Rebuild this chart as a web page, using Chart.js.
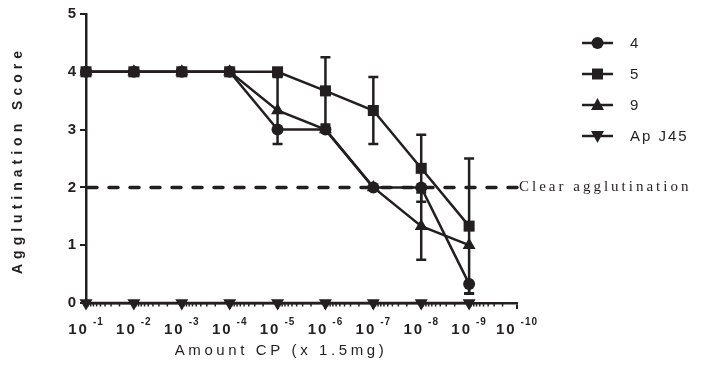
<!DOCTYPE html>
<html>
<head>
<meta charset="utf-8">
<script src="https://cdn.jsdelivr.net/npm/chart.js@4/dist/chart.umd.min.js"></script>
<style>
  body { margin: 0; background: #fff; }
  #wrap { width: 704px; height: 373px; }
</style>
</head>
<body>
<div id="wrap"><canvas id="aggChart" width="704" height="373"></canvas></div>
<script>
// x positions are dilution steps 10^-1 ... 10^-9 (axis runs to 10^-10)
const tickExponents = ['-1', '-2', '-3', '-4', '-5', '-6', '-7', '-8', '-9', '-10'];
const steps = [0, 1, 2, 3, 4, 5, 6, 7, 8];

const series4 = [4, 4, 4, 4, 3, 3, 2, 2, 0.33];
const series5 = [4, 4, 4, 4, 4, 3.67, 3.33, 2.33, 1.33];
const series9 = [4, 4, 4, 4, 3.33, 3, 2, 1.33, 1];
const seriesApJ45 = [0, 0, 0, 0, 0, 0, 0, 0, 0];

// error bars (down / up)
const err4Low = [0, 0, 0, 0, 0, 0, 0, 0, 0.16];
const err4High = [0, 0, 0, 0, 0, 0, 0, 0, 0];
const err5Low = [0, 0, 0, 0, 0, 0.58, 0.58, 0.58, 1.17];
const err5High = [0, 0, 0, 0, 0, 0.58, 0.58, 0.58, 1.17];
const err9Low = [0, 0, 0, 0, 0.58, 0, 0, 0.58, 0];
const err9High = [0, 0, 0, 0, 0.58, 0, 0, 0.58, 0];

const thresholdValue = 2;
const thresholdLabel = 'Clear agglutination';

const ink = '#231f20';
const sans = "'Liberation Sans', Arial, sans-serif";

function pts(values) {
    return values.map((v, i) => ({ x: steps[i], y: v }));
}

function drawMarker(ctx, style, x, y) {
    ctx.save();
    ctx.fillStyle = ink;
    ctx.beginPath();
    if (style === 'circle') {
        ctx.arc(x, y, 6, 0, Math.PI * 2);
    } else if (style === 'rect') {
        ctx.rect(x - 5.5, y - 5.5, 11, 11);
    } else if (style === 'up') {
        ctx.moveTo(x, y - 7);
        ctx.lineTo(x + 6.5, y + 5);
        ctx.lineTo(x - 6.5, y + 5);
    } else {
        ctx.moveTo(x, y + 7);
        ctx.lineTo(x + 6.5, y - 5);
        ctx.lineTo(x - 6.5, y - 5);
    }
    ctx.closePath();
    ctx.fill();
    ctx.restore();
}

const legendItems = [
    { label: '4', marker: 'circle' },
    { label: '5', marker: 'rect' },
    { label: '9', marker: 'up' },
    { label: 'Ap J45', marker: 'down' }
];

const errorSets = [
    { values: series4, low: err4Low, high: err4High },
    { values: series5, low: err5Low, high: err5High },
    { values: series9, low: err9Low, high: err9High }
];

const extras = {
    id: 'extras',
    beforeDatasetsDraw(chart) {
        const ctx = chart.ctx;
        const xs = chart.scales.x, ys = chart.scales.y;
        const area = chart.chartArea;

        // dashed threshold line
        const ty = ys.getPixelForValue(thresholdValue);
        ctx.save();
        ctx.strokeStyle = ink;
        ctx.lineWidth = 3.5;
        ctx.lineCap = 'round';
        ctx.setLineDash([9, 12]);
        ctx.beginPath();
        ctx.moveTo(area.left + 2, ty);
        ctx.lineTo(area.right, ty);
        ctx.stroke();
        ctx.restore();

        // error bars
        ctx.save();
        ctx.strokeStyle = ink;
        ctx.lineWidth = 2.5;
        errorSets.forEach(s => {
            s.values.forEach((v, i) => {
                const x = xs.getPixelForValue(steps[i]);
                const y = ys.getPixelForValue(v);
                [[s.low[i], -1], [s.high[i], 1]].forEach(([e, dir]) => {
                    if (!e) return;
                    const ye = ys.getPixelForValue(v + dir * e);
                    ctx.beginPath();
                    ctx.moveTo(x, y);
                    ctx.lineTo(x, ye);
                    ctx.moveTo(x - 5, ye);
                    ctx.lineTo(x + 5, ye);
                    ctx.stroke();
                });
            });
        });
        ctx.restore();
    },
    afterDraw(chart) {
        const ctx = chart.ctx;
        const xs = chart.scales.x, ys = chart.scales.y;
        const area = chart.chartArea;

        // minor (log) ticks on x axis
        ctx.save();
        ctx.strokeStyle = ink;
        ctx.lineWidth = 1.5;
        for (let i = 0; i < 9; i++) {
            for (let k = 2; k <= 9; k++) {
                const x = xs.getPixelForValue(i + 1 - Math.log10(k));
                ctx.beginPath();
                ctx.moveTo(x, area.bottom);
                ctx.lineTo(x, area.bottom + 3.5);
                ctx.stroke();
            }
        }
        ctx.restore();

        // x tick labels 10^-n
        ctx.save();
        ctx.fillStyle = ink;
        ctx.textBaseline = 'alphabetic';
        ctx.textAlign = 'left';
        tickExponents.forEach((ex, i) => {
            const x = xs.getPixelForValue(i);
            ctx.font = 'bold 15px ' + sans;
            ctx.letterSpacing = '2px';
            const wBase = ctx.measureText('10').width;
            ctx.font = 'bold 10px ' + sans;
            ctx.letterSpacing = '1px';
            const wExp = ctx.measureText(ex).width;
            const gap = 4;
            const start = x - (wBase + gap + wExp) / 2;
            ctx.font = 'bold 15px ' + sans;
            ctx.letterSpacing = '2px';
            ctx.fillText('10', start, 334);
            ctx.font = 'bold 10px ' + sans;
            ctx.letterSpacing = '1px';
            ctx.fillText(ex, start + wBase + gap, 325);
        });
        ctx.restore();

        // axis titles
        ctx.save();
        ctx.fillStyle = ink;
        ctx.textAlign = 'center';
        ctx.textBaseline = 'middle';
        ctx.font = '15px ' + sans;
        ctx.letterSpacing = '3.6px';
        ctx.fillText('Amount CP (x 1.5mg)', 281, 351);
        ctx.translate(18, 160);
        ctx.rotate(-Math.PI / 2);
        ctx.font = 'bold 14px ' + sans;
        ctx.letterSpacing = '5px';
        ctx.fillText('Agglutination Score', 0, 0);
        ctx.restore();

        // threshold label
        ctx.save();
        ctx.fillStyle = ink;
        ctx.font = "15px 'Liberation Serif', 'Times New Roman', serif";
        ctx.letterSpacing = '3px';
        ctx.textBaseline = 'middle';
        ctx.fillText(thresholdLabel, 519, ys.getPixelForValue(thresholdValue));
        ctx.restore();

        // legend
        ctx.save();
        legendItems.forEach((item, i) => {
            const y = 43 + i * 31;
            ctx.strokeStyle = ink;
            ctx.lineWidth = 2.5;
            ctx.beginPath();
            ctx.moveTo(582, y);
            ctx.lineTo(613, y);
            ctx.stroke();
            drawMarker(ctx, item.marker, 597.5, y);
            ctx.fillStyle = ink;
            ctx.font = '15px ' + sans;
            ctx.letterSpacing = '2px';
            ctx.textBaseline = 'middle';
            ctx.fillText(item.label, 630, y + 1);
        });
        ctx.restore();
    }
};

const lineStyle = { borderColor: ink, backgroundColor: ink, borderWidth: 2.5, pointBorderWidth: 0, clip: false, tension: 0 };

new Chart(document.getElementById('aggChart'), {
    type: 'line',
    data: {
        datasets: [
            { label: '5', data: pts(series5), pointStyle: 'rect', pointRadius: 7.8, order: 0, ...lineStyle },
            { label: '4', data: pts(series4), pointStyle: 'circle', pointRadius: 6, order: 1, ...lineStyle },
            { label: '9', data: pts(series9), pointStyle: 'triangle', pointRadius: 7.5, order: 2, ...lineStyle },
            { label: 'Ap J45', data: pts(seriesApJ45), pointStyle: 'triangle', pointRotation: 180, pointRadius: 7.5, order: 3, ...lineStyle }
        ]
    },
    options: {
        responsive: false,
        animation: false,
        devicePixelRatio: 1,
        layout: { padding: { top: 14, right: 187, left: 0, bottom: 0 } },
        plugins: { legend: { display: false }, tooltip: { enabled: false } },
        elements: { point: { hoverRadius: 0 } },
        scales: {
            x: {
                type: 'linear',
                min: 0,
                max: 9,
                ticks: { stepSize: 1, callback: () => '' },
                grid: { drawOnChartArea: false, drawTicks: true, tickLength: 6, color: ink, lineWidth: 2 },
                border: { color: ink, width: 2.5 },
                afterFit: s => { s.height = 70; }
            },
            y: {
                min: 0,
                max: 5,
                ticks: { stepSize: 1, color: ink, font: { family: sans, size: 15, weight: 'bold' }, padding: 4 },
                grid: { drawOnChartArea: false, drawTicks: true, tickLength: 6, color: ink, lineWidth: 2 },
                border: { color: ink, width: 2.5 },
                afterFit: s => { s.width = 86; }
            }
        }
    },
    plugins: [extras]
});
</script>
</body>
</html>
